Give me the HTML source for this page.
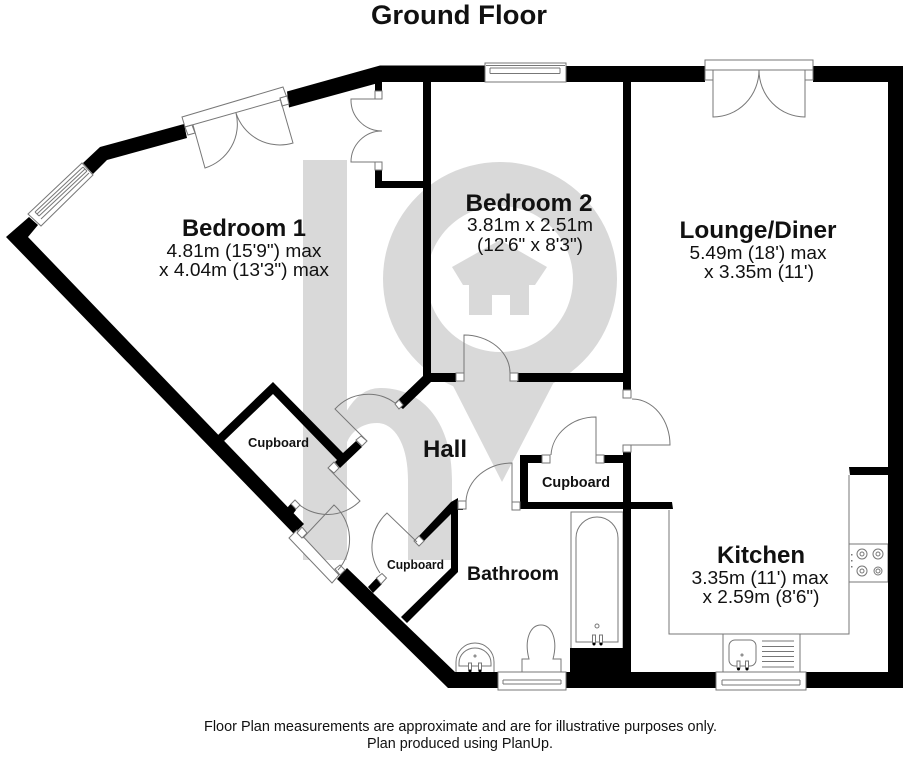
<!DOCTYPE html>
<html><head><meta charset="utf-8"><title>Ground Floor</title>
<style>
html,body{margin:0;padding:0;background:#fff}
svg{display:block}
text{font-family:"Liberation Sans",sans-serif;fill:#111}
.b{font-weight:bold}
.l{fill:none;stroke:#777;stroke-width:1}
.j{fill:#fff;stroke:#777;stroke-width:1}
</style></head><body>
<svg width="904" height="760" viewBox="0 0 904 760" xmlns="http://www.w3.org/2000/svg">
<rect width="904" height="760" fill="#fff"/>
<!-- watermark -->
<g fill="#d9d9d9">
<rect x="303" y="160" width="44" height="400"/>
<path fill-rule="evenodd" d="M500 162a117 117 0 1 0 .01 0zM500 206a73 73 0 1 1-.01 0z"/>
<path d="M346 412Q360 388 380 388C425 388 452 425 452 480V560H408V480C408 445 395 423 377 423C362 423 350 432 346 445Z"/>
<path d="M449 378H556L502 482Z"/>
<path d="M500 240L547 267L535 285H529V315H510V295H492V315H469V285H463L452 267Z"/>
</g>
<!-- kitchen outlines -->
<path class="l" d="M669 510V634H849V475"/>
<rect class="l" x="849" y="544" width="39" height="38"/>
<g class="l"><circle cx="862" cy="554" r="5"/><circle cx="862" cy="554" r="2"/><circle cx="878" cy="554" r="5"/><circle cx="878" cy="554" r="2"/><circle cx="862" cy="571" r="5"/><circle cx="862" cy="571" r="2"/><circle cx="878" cy="571" r="4"/><circle cx="878" cy="571" r="2"/></g>
<g fill="#777"><rect x="851" y="554" width="1.5" height="1.5"/><rect x="851" y="560" width="1.5" height="1.5"/><rect x="851" y="566" width="1.5" height="1.5"/></g>
<rect class="l" x="723" y="634" width="77" height="38"/>
<rect class="l" x="729" y="640" width="27" height="26" rx="6"/>
<path class="l" d="M762 641H794M762 646.500H794M762 651.500H794M762 656.500H794M762 661.500H794M762 667H794"/>
<circle class="l" cx="742" cy="655" r="1"/>
<rect class="j" x="737" y="661" width="3" height="7"/><rect class="j" x="745.500" y="661" width="3" height="7"/>
<circle cx="738.500" cy="669" r="1.500" fill="#000"/><circle cx="747" cy="669" r="1.500" fill="#000"/>
<!-- bath -->
<rect class="l" x="571" y="512" width="52" height="137"/>
<path class="l" d="M576 642V538A21 21 0 0 1 618 538V642Z"/>
<circle class="l" cx="597" cy="626" r="2"/>
<rect class="j" x="592.500" y="635" width="3" height="8"/><rect class="j" x="599.500" y="635" width="3" height="8"/>
<circle cx="594" cy="644" r="1.500" fill="#000"/><circle cx="601" cy="644" r="1.500" fill="#000"/>
<rect x="570" y="648" width="54" height="24" fill="#000"/>
<!-- toilet -->
<path class="l" d="M522 672V659H529C524 640 530 625 541 625C552 625 558 640 553 659H561V672"/>
<!-- basin -->
<path class="l" d="M456 672V662A19 19 0 0 1 494 662V672"/>
<path class="l" d="M459 666V663A16 15 0 0 1 491 663V666Z"/>
<circle class="l" cx="475" cy="656" r="1"/>
<rect class="j" x="468.500" y="663" width="3" height="7"/><rect class="j" x="478.500" y="663" width="3" height="7"/>
<circle cx="470" cy="671" r="1.500" fill="#000"/><circle cx="480" cy="671" r="1.500" fill="#000"/>
<!-- walls -->
<g fill="#000">
<path d="M380 65.500H485V82H382L289 107.500L287 91.500Z"/>
<rect x="566" y="66" width="139" height="16"/>
<path d="M813 66H903V688H806V672H888V82H813Z"/>
<path d="M566 672H716V688H566Z"/>
<path d="M184 124L187 138L107 160L93 174L83 163L100 147Z"/>
<path d="M29 217L38 225L28 237L304 524L294 534L6 237Z"/>
<path d="M347 568L455 672H498V688H448L337 579Z"/>
<rect x="423" y="82" width="8" height="292"/>
<rect x="623" y="82" width="8" height="308"/>
<path d="M375 82H382V91H375ZM375 170H382V181H423V188H375Z"/>
<path d="M423 373H456V382H431L403 409L395 403L423 376Z"/>
<rect x="517" y="373" width="106" height="9"/>
<path d="M218 435L273 382L343 453L356 441L362 447L340 468L335 462L337 460L273 394L224 441Z"/>
<path d="M419 536L451 502L458 498V572L407 623L401 617L451 568V514L424 541Z"/>
<path d="M458 503H463V510H458Z"/>
<path d="M520 455H542V463H528V502H623V452H631V502H672L673 509H631V672H623V509H520Z"/>
<rect x="604" y="455" width="20" height="8"/>
<path d="M849 467H888V475H850Z"/>
<path d="M287 508L291 503.500L296 510L293 514Z"/>
<path d="M368 587L376.500 578L382 584L373 593Z"/>
</g>
<!-- windows -->
<rect x="485" y="63" width="81" height="19" class="j"/>
<path class="l" d="M486 65.500H565M490 68H560M490 73.500H560M490 68V73.500M560 68V73.500"/>
<rect x="498" y="672" width="68" height="18" class="j"/>
<path class="l" d="M503 680H561M503 684H561M503 680V684M561 680V684"/>
<rect x="716" y="672" width="90" height="18" class="j"/>
<path class="l" d="M722 680H800M722 685H800M722 680V685M800 680V685"/>
<polygon class="j" points="82,163 93,175 41,226 28,214"/>
<path class="l" d="M35 212L83 167M37 214L85 169M39 216L87 171M41 219L89 173M35 212L39 216M83 167L87 171"/>
<!-- lounge door -->
<rect x="705" y="60" width="108" height="10" class="j"/>
<rect x="705" y="70" width="8" height="10" class="j"/><rect x="805" y="70" width="8" height="10" class="j"/>
<path class="l" d="M713 70V117A46 47 0 0 0 759 70A46 47 0 0 0 805 117V70"/>
<!-- bedroom 1 door -->
<polygon class="j" points="182,117 283,87 287,98 185,127"/>
<polygon class="j" points="185,127 192,125 195,133 188,135"/>
<polygon class="j" points="280,98 287,96 289,104 282,106"/>
<path class="l" d="M193 125L205 168A46 46 0 0 0 236 113A46 46 0 0 0 293 143L280 98"/>
<!-- closet door -->
<rect x="375" y="91" width="7" height="8" class="j"/><rect x="375" y="162" width="7" height="8" class="j"/>
<path class="l" d="M375 99H351A31 31 0 0 0 382 131A31 31 0 0 0 351 162H375"/>
<!-- bedroom 2 door -->
<rect x="456" y="373" width="8" height="8" class="j"/><rect x="510" y="373" width="8" height="8" class="j"/>
<path class="l" d="M464 373V335A46 38 0 0 1 510 373"/>
<!-- bedroom 1 hall door -->
<polygon class="j" points="395,404 399,400 403,405 399,409"/>
<path class="l" d="M395 403A45 45 0 0 0 335 409L367 441"/>
<polygon class="j" points="356,440 361,436 367,441 362,446"/>
<!-- cupboard 1 door -->
<polygon class="j" points="328,468 334,462 339,468 334,473"/>
<path class="l" d="M329 469L360 501A46 46 0 0 1 296 502"/>
<polygon class="j" points="291,504 295,500 300,505 296,509"/>
<!-- entrance -->
<polygon class="j" points="289,538 297,530 339,575 332,583"/>
<polygon class="j" points="297,533 302,527 307,533 302,538"/>
<polygon class="j" points="335,569 340,565 345,570 340,575"/>
<path class="l" d="M303 538L334 505A46 46 0 0 1 338 570"/>
<!-- cupboard 2 door -->
<polygon class="j" points="414,541 419,536 424,541 419,546"/>
<path class="l" d="M417 542L387 513A46 46 0 0 0 380 573"/>
<polygon class="j" points="376.500,578 382,573.500 386.500,578 381,584"/>
<!-- bathroom door -->
<rect x="458" y="501" width="8" height="8" class="j"/><rect x="512" y="502" width="8" height="8" class="j"/>
<path class="l" d="M466 501A46 40 0 0 1 512 463V502"/>
<!-- cupboard 3 door -->
<rect x="542" y="455" width="8" height="8" class="j"/><rect x="596" y="455" width="8" height="8" class="j"/>
<path class="l" d="M551 455A45 40 0 0 1 596 417V455"/>
<!-- lounge hall door -->
<rect x="623" y="390" width="8" height="8" class="j"/><rect x="623" y="445" width="8" height="7" class="j"/>
<path class="l" d="M632 399A38 46 0 0 1 670 445H631"/>
<!-- labels -->
<text class="b" x="459" y="24" text-anchor="middle" font-size="27" textLength="176" lengthAdjust="spacingAndGlyphs">Ground Floor</text>
<text class="b" x="244" y="236" text-anchor="middle" font-size="24" textLength="124" lengthAdjust="spacingAndGlyphs">Bedroom 1</text>
<text x="244" y="257" text-anchor="middle" font-size="18.500" textLength="155" lengthAdjust="spacingAndGlyphs">4.81m (15'9") max</text>
<text x="244" y="276" text-anchor="middle" font-size="18.500" textLength="170" lengthAdjust="spacingAndGlyphs">x 4.04m (13'3") max</text>
<text class="b" x="529" y="211" text-anchor="middle" font-size="24" textLength="127" lengthAdjust="spacingAndGlyphs">Bedroom 2</text>
<text x="530" y="231" text-anchor="middle" font-size="18.500" textLength="126" lengthAdjust="spacingAndGlyphs">3.81m x 2.51m</text>
<text x="530" y="251" text-anchor="middle" font-size="18.500" textLength="106" lengthAdjust="spacingAndGlyphs">(12'6" x 8'3")</text>
<text class="b" x="758" y="238" text-anchor="middle" font-size="24" textLength="157" lengthAdjust="spacingAndGlyphs">Lounge/Diner</text>
<text x="758" y="259" text-anchor="middle" font-size="18.500" textLength="137" lengthAdjust="spacingAndGlyphs">5.49m (18') max</text>
<text x="759" y="278" text-anchor="middle" font-size="18.500" textLength="110" lengthAdjust="spacingAndGlyphs">x 3.35m (11')</text>
<text class="b" x="761" y="563" text-anchor="middle" font-size="24" textLength="88" lengthAdjust="spacingAndGlyphs">Kitchen</text>
<text x="760" y="584" text-anchor="middle" font-size="18.500" textLength="137" lengthAdjust="spacingAndGlyphs">3.35m (11') max</text>
<text x="761" y="603" text-anchor="middle" font-size="18.500" textLength="117" lengthAdjust="spacingAndGlyphs">x 2.59m (8'6")</text>
<text class="b" x="445" y="457" text-anchor="middle" font-size="24" textLength="44" lengthAdjust="spacingAndGlyphs">Hall</text>
<text class="b" x="513" y="580" text-anchor="middle" font-size="19.500" textLength="92" lengthAdjust="spacingAndGlyphs">Bathroom</text>
<text class="b" x="278.500" y="447" text-anchor="middle" font-size="13" textLength="61" lengthAdjust="spacingAndGlyphs">Cupboard</text>
<text class="b" x="415.500" y="569" text-anchor="middle" font-size="12.500" textLength="57" lengthAdjust="spacingAndGlyphs">Cupboard</text>
<text class="b" x="576" y="487" text-anchor="middle" font-size="14.500" textLength="68" lengthAdjust="spacingAndGlyphs">Cupboard</text>
<text x="460.500" y="731" text-anchor="middle" font-size="14.500" textLength="513" lengthAdjust="spacingAndGlyphs">Floor Plan measurements are approximate and are for illustrative purposes only.</text>
<text x="460" y="748" text-anchor="middle" font-size="14.500" textLength="186" lengthAdjust="spacingAndGlyphs">Plan produced using PlanUp.</text>
</svg>
</body></html>
